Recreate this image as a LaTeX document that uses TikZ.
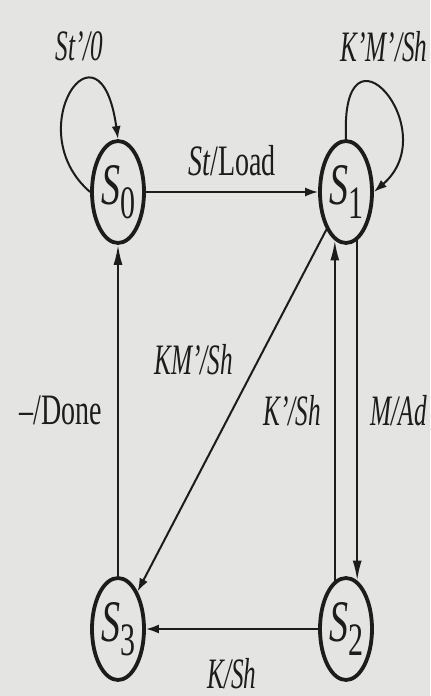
\documentclass[tikz,border=0pt]{standalone}
\usepackage{fontspec}
\setmainfont{Liberation Serif}
\usepackage{graphicx}
\usetikzlibrary{arrows.meta}
\usetikzlibrary{shapes.geometric}

\definecolor{paper}{RGB}{228,229,226}
\definecolor{ink}{RGB}{28,28,28}
% labels are set narrow and tall
\newcommand{\tall}[1]{\scalebox{1}[1.55]{#1}}
\newcommand{\itall}[1]{\scalebox{0.9}[1.55]{\itshape #1}}
\newcommand{\sname}[1]{\tall{\fontsize{19}{22}\selectfont\textit{S}\raisebox{-0.5ex}{\fontsize{15}{17}\selectfont #1}}}

\begin{document}
\begin{tikzpicture}[x=0.5pt,y=-0.5pt,font=\fontsize{14}{17}\selectfont,text=ink,
  >={Latex[length=6.5pt,width=4.5pt]},
  state/.style={draw=ink,line width=1.9pt,ellipse,minimum width=26pt,minimum height=51pt,inner sep=0pt},
  trans/.style={->,draw=ink,line width=1pt},
  vtrans/.style={trans,>={Latex[length=10pt,width=4.5pt]}}]
\fill[paper] (0,0) rectangle (430,696);
\useasboundingbox (0,0) rectangle (430,696);

% states
\node[state] (s0) at (118,192) {\sname{0}};
\node[state] (s1) at (346,192) {\sname{1}};
\node[state] (s2) at (346,629) {\sname{2}};
\node[state] (s3) at (118,629) {\sname{3}};

% self loops
\draw[trans] (s0.west) .. controls +(-72,-62) and +(-18,-130) .. (s0.north)
  node[pos=0.62,above=7pt,xshift=-1pt] (l00) {\itall{St'/0}};
\draw[trans] (s1.north) .. controls +(-6,-130) and +(72,-62) .. (s1.east)
  node[pos=0.4,above=7pt,xshift=5pt] (l11) {\itall{K'M'/Sh}};

% transitions
\draw[trans] (s0) -- (s1) node[midway,above=4pt] (l01) {\tall{\textit{St}/Load}};
\draw[trans] (s1) -- (s3) node[pos=0.36,left=9pt] (l13) {\itall{KM'/Sh}};
\draw[vtrans] (s1.283) -- (s2.77) node[midway,right=3pt] (l12) {\itall{M/Ad}};
\draw[vtrans] (s2.103) -- (s1.257) node[midway,left=3pt] (l21) {\itall{K'/Sh}};
\draw[trans] (s2) -- (s3) node[midway,below=11pt] (l23) {\itall{K/Sh}};
\draw[vtrans] (s3) -- (s0) node[midway,left=4pt] (l30) {\tall{--/Done}};
\end{tikzpicture}
\end{document}
